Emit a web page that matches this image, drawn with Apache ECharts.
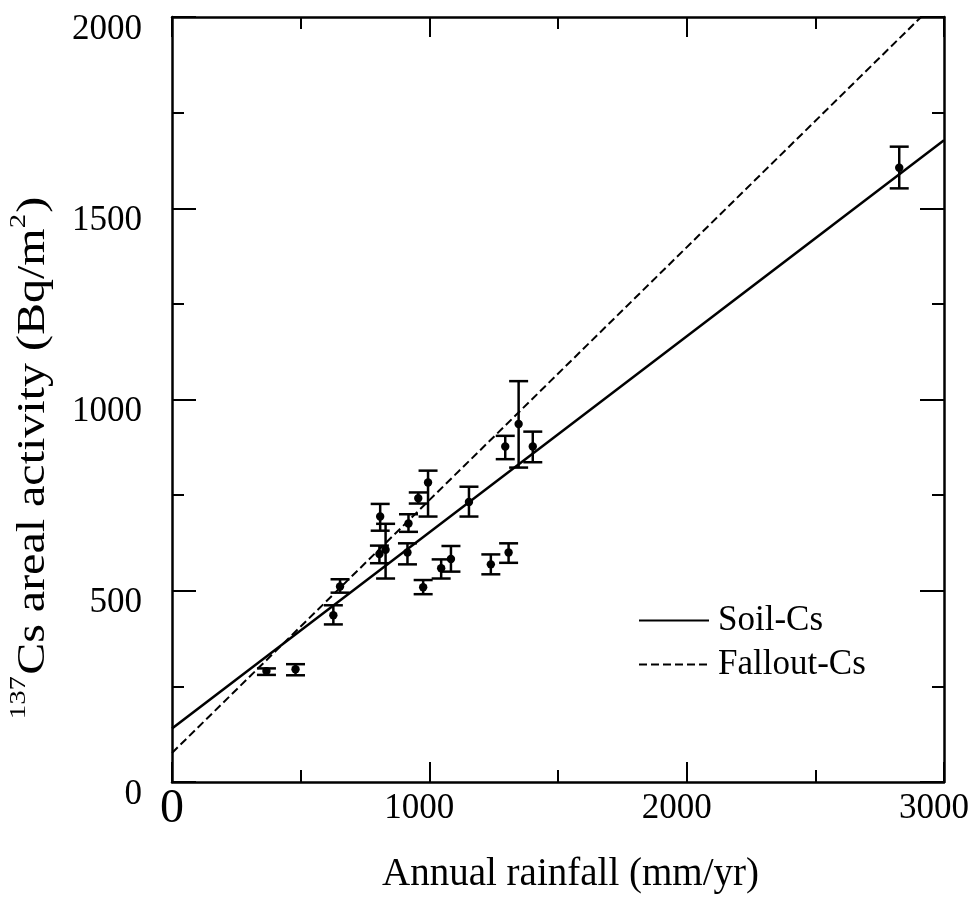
<!DOCTYPE html>
<html>
<head>
<meta charset="utf-8">
<script src="https://cdn.jsdelivr.net/npm/echarts@6/dist/echarts.min.js"></script>
<style>html,body{margin:0;padding:0;background:#fff}#c{width:972px;height:904px}</style>
</head>
<body>
<div id="c"></div>
<script>
// Data
const rainfall = [367, 480, 627, 653, 806, 809, 830, 915, 919, 957, 976, 995, 1046, 1084, 1154, 1239, 1295, 1308, 1347, 1402, 2826];
const activity = [290, 295, 436, 511, 596, 694, 607, 600, 676, 742, 509, 783, 559, 583, 732, 569, 877, 600, 936, 877, 1606];
const errLow   = [280, 279, 412, 495, 572, 657, 532, 569, 654, 728, 491, 694, 532, 550, 694, 543, 844, 573, 822, 836, 1552];
const errHigh  = [297, 308, 462, 530, 618, 727, 675, 624, 700, 757, 528, 814, 582, 617, 772, 595, 905, 624, 1048, 916, 1661];
const soilLine = [[0, 140], [3000, 1678]];
const falloutLine = [[0, 76], [2911, 2000]];
const xTicks = [0, 1000, 2000, 3000];
const yTicks = [0, 500, 1000, 1500, 2000];

const FONT = 'Liberation Serif';
const pts = rainfall.map((x, i) => [x, activity[i], errLow[i], errHigh[i]]);

const chart = echarts.init(document.getElementById('c'));
const axisLineStyle = {show: true, onZero: false, lineStyle: {color: '#000', width: 2.5}};
const tick = len => ({show: true, inside: true, length: len, lineStyle: {color: '#000', width: 2}});
const minor = {show: true, splitNumber: 2, length: 12, lineStyle: {color: '#000', width: 2}};

chart.setOption({
  animation: false,
  backgroundColor: '#fff',
  grid: {left: 172, right: 22, top: 17, bottom: 122, containLabel: false},
  xAxis: [{
    type: 'value', min: 0, max: 3000, interval: 1000, position: 'bottom',
    axisLine: axisLineStyle, axisTick: tick(20), minorTick: minor,
    splitLine: {show: false},
    axisLabel: {
      margin: 3, color: '#000', fontFamily: FONT, fontSize: 35, verticalAlign: 'top',
      formatter: v => xTicks.indexOf(v) === 0 ? '{big|' + v + '}' : '{n|' + v + '}',
      rich: {
        big: {fontSize: 48, fontFamily: FONT, color: '#000'},
        n: {fontSize: 35, fontFamily: FONT, color: '#000', padding: [6, 20, 0, 0]}
      }
    },
    name: 'Annual rainfall (mm/yr)', nameLocation: 'middle', nameGap: 73,
    nameTextStyle: {fontFamily: FONT, fontSize: 39, color: '#000', padding: [0, 0, 0, 25]}
  }, {
    type: 'value', min: 0, max: 3000, interval: 1000, position: 'top',
    axisLine: axisLineStyle, axisTick: tick(20), minorTick: minor,
    splitLine: {show: false}, axisLabel: {show: false}
  }],
  yAxis: [{
    type: 'value', min: 0, max: 2000, interval: 500, position: 'left',
    axisLine: axisLineStyle, axisTick: tick(24), minorTick: minor,
    splitLine: {show: false},
    axisLabel: {
      margin: 30, color: '#000', fontFamily: FONT, fontSize: 35,
      formatter: v => yTicks.indexOf(v) >= 0 ? '{n|' + v + '}' : '',
      rich: {n: {fontSize: 35, fontFamily: FONT, color: '#000', padding: [25, 0, 0, 0]}}
    }
  }, {
    type: 'value', min: 0, max: 2000, interval: 500, position: 'right',
    axisLine: axisLineStyle, axisTick: tick(24), minorTick: minor,
    splitLine: {show: false}, axisLabel: {show: false}
  }],
  legend: {
    data: ['Soil-Cs', 'Fallout-Cs'],
    orient: 'vertical', left: 633, top: 598,
    itemWidth: 70, itemHeight: 14, itemGap: 9,
    itemStyle: {color: 'transparent', borderWidth: 0, opacity: 0},
    textStyle: {fontFamily: FONT, fontSize: 35, color: '#000', padding: [0, 0, 0, 4]}
  },
  graphic: [{
    type: 'text', x: 30, y: 458, rotation: Math.PI / 2, scaleX: 1.2, scaleY: 1,
    style: {
      text: '{s|137}{n|Cs areal activity (Bq/m}{s|2}{n|)}',
      align: 'center', verticalAlign: 'middle',
      rich: {
        n: {fontFamily: FONT, fontSize: 40, lineHeight: 46, fill: '#000', verticalAlign: 'bottom'},
        s: {fontFamily: FONT, fontSize: 24, lineHeight: 46, fill: '#000', verticalAlign: 'top', padding: [0, 1, 0, 0]}
      }
    }
  }],
  series: [{
    name: 'Soil-Cs', type: 'line', data: soilLine, symbol: 'none', showSymbol: false,
    lineStyle: {color: '#000', width: 2.5}, itemStyle: {color: '#000'}, z: 3
  }, {
    name: 'Fallout-Cs', type: 'line', data: falloutLine, symbol: 'none', showSymbol: false,
    lineStyle: {color: '#000', width: 2, type: [8, 4]}, itemStyle: {color: '#000'}, z: 3
  }, {
    name: 'points', type: 'custom', data: pts, z: 4,
    renderItem: function (params, api) {
      const x = api.value(0), y = api.value(1), lo = api.value(2), hi = api.value(3);
      const c = api.coord([x, y]);
      const l = api.coord([x, lo]);
      const h = api.coord([x, hi]);
      const hw = 9.5;
      const st = {stroke: '#000', lineWidth: 2.5};
      return {
        type: 'group',
        children: [
          {type: 'line', shape: {x1: c[0], y1: l[1], x2: c[0], y2: h[1]}, style: st},
          {type: 'line', shape: {x1: c[0] - hw, y1: l[1], x2: c[0] + hw, y2: l[1]}, style: st},
          {type: 'line', shape: {x1: c[0] - hw, y1: h[1], x2: c[0] + hw, y2: h[1]}, style: st},
          {type: 'circle', shape: {cx: c[0], cy: c[1], r: 4.2}, style: {fill: '#000'}}
        ]
      };
    }
  }]
});
</script>
</body>
</html>
